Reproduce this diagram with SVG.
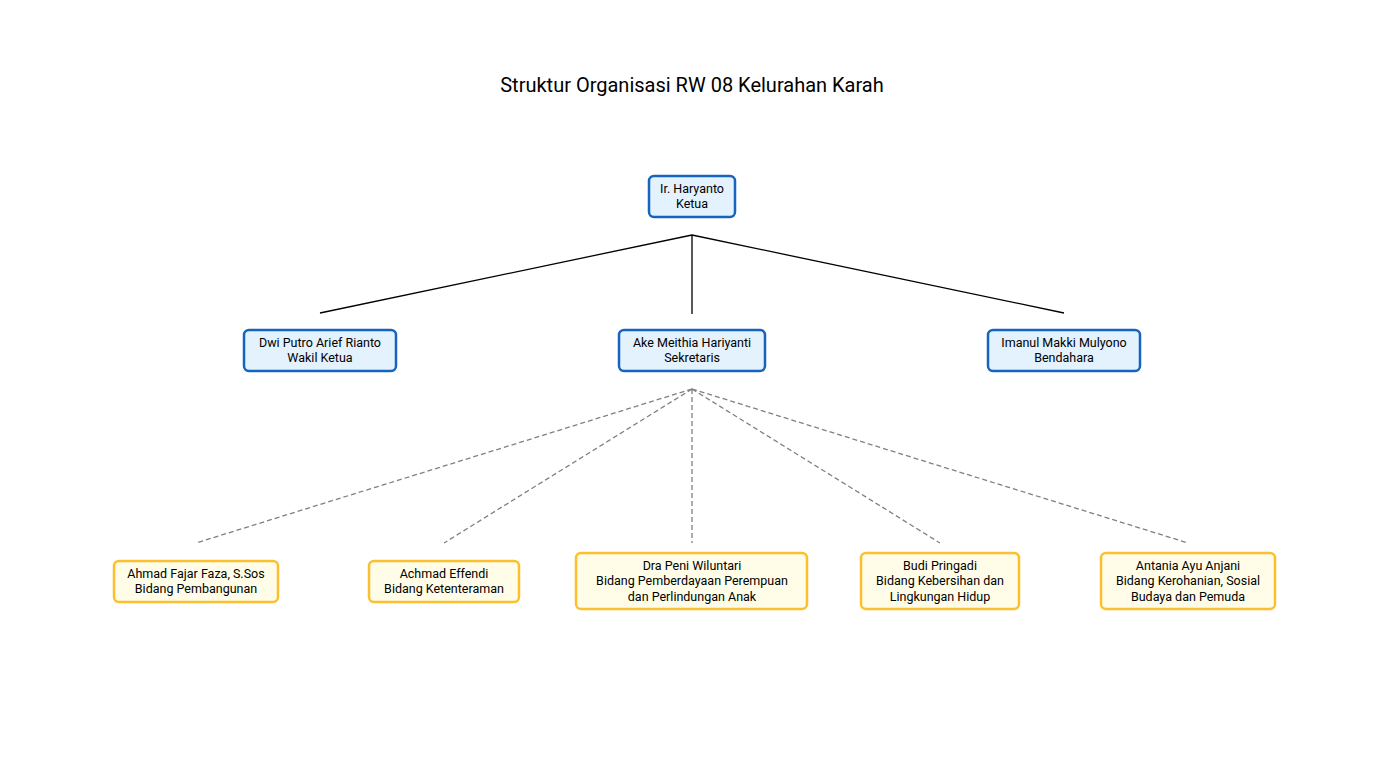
<svg xmlns="http://www.w3.org/2000/svg" width="1398" height="771" viewBox="0 0 1398 771">
<style>
text{font-family:Roboto,"Open Sans",sans-serif;font-size:12.5px;fill:#000;text-anchor:middle}
.t{font-size:20px}
.b{fill:#e3f2fd;stroke:#1565c0;stroke-width:2.5}
.y{fill:#fffde7;stroke:#fbc02d;stroke-width:2.5}
.s{stroke:#000;stroke-width:1.3;fill:none}
.d{stroke:#808080;stroke-width:1.3;fill:none;stroke-dasharray:5,3}
</style>
<rect width="1398" height="771" fill="#fff"/>
<text class="t" x="692" y="92">Struktur Organisasi RW 08 Kelurahan Karah</text>
<g id="connectors">
<path class="s" d="M692 235L320 313M692 235V314M692 235L1064 313"/>
<path class="d" d="M692 389L196 543M692 389L444 543M692 389V543M692 389L940 543M692 389L1188 543"/>
</g>
<g id="n1"><rect class="b" x="649" y="176" width="86" height="41" rx="5"/><text x="692" y="193">Ir. Haryanto</text><text x="692" y="208">Ketua</text></g>
<g id="n2"><rect class="b" x="244" y="330" width="152" height="41" rx="5"/><text x="320" y="347">Dwi Putro Arief Rianto</text><text x="320" y="362">Wakil Ketua</text></g>
<g id="n3"><rect class="b" x="619" y="330" width="146" height="41" rx="5"/><text x="692" y="347">Ake Meithia Hariyanti</text><text x="692" y="362">Sekretaris</text></g>
<g id="n4"><rect class="b" x="988" y="330" width="152" height="41" rx="5"/><text x="1064" y="347">Imanul Makki Mulyono</text><text x="1064" y="362">Bendahara</text></g>
<g id="n5"><rect class="y" x="114" y="561" width="164" height="41" rx="5"/><text x="196" y="578">Ahmad Fajar Faza, S.Sos</text><text x="196" y="593">Bidang Pembangunan</text></g>
<g id="n6"><rect class="y" x="369" y="561" width="150" height="41" rx="5"/><text x="444" y="578">Achmad Effendi</text><text x="444" y="593">Bidang Ketenteraman</text></g>
<g id="n7"><rect class="y" x="576" y="553" width="231" height="56" rx="5"/><text x="692" y="570">Dra Peni Wiluntari</text><text x="692" y="585">Bidang Pemberdayaan Perempuan</text><text x="692" y="601">dan Perlindungan Anak</text></g>
<g id="n8"><rect class="y" x="861" y="553" width="158" height="56" rx="5"/><text x="940" y="570">Budi Pringadi</text><text x="940" y="585">Bidang Kebersihan dan</text><text x="940" y="601">Lingkungan Hidup</text></g>
<g id="n9"><rect class="y" x="1101" y="553" width="174" height="56" rx="5"/><text x="1188" y="570">Antania Ayu Anjani</text><text x="1188" y="585">Bidang Kerohanian, Sosial</text><text x="1188" y="601">Budaya dan Pemuda</text></g>
</svg>
